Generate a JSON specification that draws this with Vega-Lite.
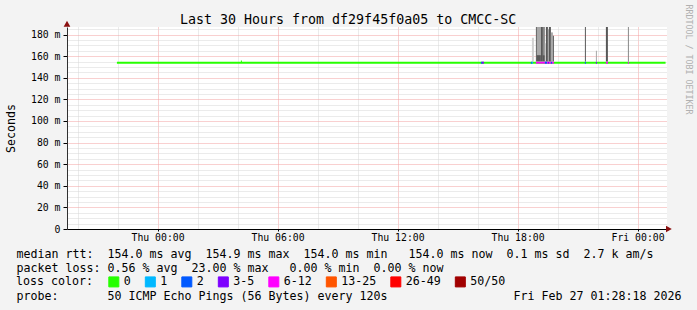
{
  "$schema": "https://vega.github.io/schema/vega-lite/v6.json",
  "width": 600,
  "height": 202,
  "autosize": {"type": "none"},
  "padding": {"left": 67, "top": 27, "right": 30, "bottom": 81},
  "background": "#f3f3f3",
  "config": {"view": {"fill": "#ffffff", "stroke": null}, "font": "DejaVu Sans Mono"},
  "title": {
    "text": "Last 30 Hours from df29f45f0a05 to CMCC-SC",
    "font": "DejaVu Sans Mono", "fontSize": 13.3, "fontWeight": "normal", "color": "#000000",
    "anchor": "start", "frame": "group", "dx": 113, "dy": 36, "offset": 3, "baseline": "alphabetic"
  },
  "datasets": {
    "smoke": [
      {"t0": "2026-02-26T18:43:00Z", "t1": "2026-02-26T18:49:00Z", "lo": 155, "hi": 177, "level": 1},
      {"t0": "2026-02-26T18:55:00Z", "t1": "2026-02-26T18:58:00Z", "lo": 155, "hi": 200, "level": 4},
      {"t0": "2026-02-26T18:58:00Z", "t1": "2026-02-26T19:10:00Z", "lo": 161, "hi": 200, "level": 2},
      {"t0": "2026-02-26T18:58:00Z", "t1": "2026-02-26T19:10:00Z", "lo": 155, "hi": 161, "level": 4},
      {"t0": "2026-02-26T19:10:00Z", "t1": "2026-02-26T19:16:00Z", "lo": 155, "hi": 200, "level": 4},
      {"t0": "2026-02-26T19:16:00Z", "t1": "2026-02-26T19:22:00Z", "lo": 161, "hi": 200, "level": 3},
      {"t0": "2026-02-26T19:16:00Z", "t1": "2026-02-26T19:22:00Z", "lo": 155, "hi": 161, "level": 4},
      {"t0": "2026-02-26T19:22:00Z", "t1": "2026-02-26T19:25:00Z", "lo": 155, "hi": 172, "level": 1},
      {"t0": "2026-02-26T19:25:00Z", "t1": "2026-02-26T19:31:00Z", "lo": 155, "hi": 200, "level": 4},
      {"t0": "2026-02-26T19:31:00Z", "t1": "2026-02-26T19:34:00Z", "lo": 155, "hi": 185, "level": 2},
      {"t0": "2026-02-26T19:34:00Z", "t1": "2026-02-26T19:40:00Z", "lo": 155, "hi": 200, "level": 4},
      {"t0": "2026-02-26T19:40:00Z", "t1": "2026-02-26T19:46:00Z", "lo": 155, "hi": 182, "level": 2},
      {"t0": "2026-02-26T19:46:00Z", "t1": "2026-02-26T19:49:00Z", "lo": 155, "hi": 179, "level": 4},
      {"t0": "2026-02-26T21:22:00Z", "t1": "2026-02-26T21:25:00Z", "lo": 155, "hi": 200, "level": 4},
      {"t0": "2026-02-26T21:55:00Z", "t1": "2026-02-26T21:58:00Z", "lo": 155, "hi": 165, "level": 2},
      {"t0": "2026-02-26T22:25:00Z", "t1": "2026-02-26T22:31:00Z", "lo": 155, "hi": 200, "level": 4},
      {"t0": "2026-02-26T23:31:00Z", "t1": "2026-02-26T23:34:00Z", "lo": 155, "hi": 200, "level": 3}
    ],
    "median": [
      {"t0": "2026-02-25T21:58:00Z", "t1": "2026-02-27T01:24:00Z", "v": 154, "loss": "0"},
      {"t0": "2026-02-26T04:10:00Z", "t1": "2026-02-26T04:13:00Z", "v": 155, "loss": "0"},
      {"t0": "2026-02-26T16:10:00Z", "t1": "2026-02-26T16:13:00Z", "v": 154, "loss": "2"},
      {"t0": "2026-02-26T16:13:00Z", "t1": "2026-02-26T16:19:00Z", "v": 154, "loss": "3-5"},
      {"t0": "2026-02-26T18:40:00Z", "t1": "2026-02-26T18:43:00Z", "v": 154, "loss": "2"},
      {"t0": "2026-02-26T18:43:00Z", "t1": "2026-02-26T18:46:00Z", "v": 154, "loss": "1"},
      {"t0": "2026-02-26T18:55:00Z", "t1": "2026-02-26T19:49:00Z", "v": 154, "loss": "6-12"},
      {"t0": "2026-02-26T19:22:00Z", "t1": "2026-02-26T19:28:00Z", "v": 154, "loss": "2"},
      {"t0": "2026-02-26T19:31:00Z", "t1": "2026-02-26T19:34:00Z", "v": 154, "loss": "3-5"},
      {"t0": "2026-02-26T19:40:00Z", "t1": "2026-02-26T19:43:00Z", "v": 154, "loss": "2"},
      {"t0": "2026-02-26T21:22:00Z", "t1": "2026-02-26T21:25:00Z", "v": 154, "loss": "2"},
      {"t0": "2026-02-26T21:55:00Z", "t1": "2026-02-26T21:58:00Z", "v": 154, "loss": "3-5"},
      {"t0": "2026-02-26T22:25:00Z", "t1": "2026-02-26T22:31:00Z", "v": 154, "loss": "6-12"},
      {"t0": "2026-02-26T23:31:00Z", "t1": "2026-02-26T23:34:00Z", "v": 154, "loss": "6-12"}
    ],
    "yarrow": [{"t": "2026-02-25T19:28:18Z", "v": 190}],
    "xarrow": [{"t": "2026-02-27T01:34:00Z", "v": 0}]
  },
  "layer": [
    {
      "data": {"name": "smoke"},
      "mark": {"type": "rect", "clip": true},
      "encoding": {
        "x": {
          "field": "t0", "type": "temporal",
          "scale": {"type": "utc", "domain": [{"year": 2026, "month": 2, "date": 25, "hours": 19, "minutes": 28, "seconds": 18, "utc": true}, {"year": 2026, "month": 2, "date": 27, "hours": 1, "minutes": 28, "seconds": 18, "utc": true}], "nice": false},
          "axis": {
            "values": [
              {"year": 2026, "month": 2, "date": 25, "hours": 20, "utc": true},
              {"year": 2026, "month": 2, "date": 25, "hours": 21, "utc": true},
              {"year": 2026, "month": 2, "date": 25, "hours": 22, "utc": true},
              {"year": 2026, "month": 2, "date": 25, "hours": 23, "utc": true},
              {"year": 2026, "month": 2, "date": 26, "hours": 0, "utc": true},
              {"year": 2026, "month": 2, "date": 26, "hours": 1, "utc": true},
              {"year": 2026, "month": 2, "date": 26, "hours": 2, "utc": true},
              {"year": 2026, "month": 2, "date": 26, "hours": 3, "utc": true},
              {"year": 2026, "month": 2, "date": 26, "hours": 4, "utc": true},
              {"year": 2026, "month": 2, "date": 26, "hours": 5, "utc": true},
              {"year": 2026, "month": 2, "date": 26, "hours": 6, "utc": true},
              {"year": 2026, "month": 2, "date": 26, "hours": 7, "utc": true},
              {"year": 2026, "month": 2, "date": 26, "hours": 8, "utc": true},
              {"year": 2026, "month": 2, "date": 26, "hours": 9, "utc": true},
              {"year": 2026, "month": 2, "date": 26, "hours": 10, "utc": true},
              {"year": 2026, "month": 2, "date": 26, "hours": 11, "utc": true},
              {"year": 2026, "month": 2, "date": 26, "hours": 12, "utc": true},
              {"year": 2026, "month": 2, "date": 26, "hours": 13, "utc": true},
              {"year": 2026, "month": 2, "date": 26, "hours": 14, "utc": true},
              {"year": 2026, "month": 2, "date": 26, "hours": 15, "utc": true},
              {"year": 2026, "month": 2, "date": 26, "hours": 16, "utc": true},
              {"year": 2026, "month": 2, "date": 26, "hours": 17, "utc": true},
              {"year": 2026, "month": 2, "date": 26, "hours": 18, "utc": true},
              {"year": 2026, "month": 2, "date": 26, "hours": 19, "utc": true},
              {"year": 2026, "month": 2, "date": 26, "hours": 20, "utc": true},
              {"year": 2026, "month": 2, "date": 26, "hours": 21, "utc": true},
              {"year": 2026, "month": 2, "date": 26, "hours": 22, "utc": true},
              {"year": 2026, "month": 2, "date": 26, "hours": 23, "utc": true},
              {"year": 2026, "month": 2, "date": 27, "hours": 0, "utc": true},
              {"year": 2026, "month": 2, "date": 27, "hours": 1, "utc": true}
            ],
            "grid": true,
            "gridColor": {"condition": {"test": "utchours(datum.value) % 3 === 0", "value": "#f2a0a0"}, "value": "#d6d6d6"},
            "gridDash": [1, 1],
            "domain": true, "domainColor": "#000000",
            "ticks": true, "tickSize": 2, "tickColor": "#000000",
            "tickOpacity": {"condition": {"test": "utchours(datum.value) % 3 === 0", "value": 1}, "value": 0},
            "labelExpr": "utchours(datum.value) % 6 === 0 ? utcFormat(datum.value, '%a %H:%M') : ''",
            "labelFont": "DejaVu Sans Mono", "labelFontSize": 9.8, "labelColor": "#000000",
            "labelPadding": 1, "labelOverlap": false,
            "title": [
              "median rtt:\u00a0\u00a0154.0 ms avg\u00a0\u00a0154.9 ms max\u00a0\u00a0154.0 ms min\u00a0\u00a0\u00a0154.0 ms now\u00a0\u00a00.1 ms sd\u00a0\u00a02.7 k am/s",
              "packet loss: 0.56 % avg\u00a0\u00a023.00 % max\u00a0\u00a0\u00a00.00 % min\u00a0\u00a00.00 % now",
              "\u200b",
              "probe:\u00a0\u00a0\u00a0\u00a0\u00a0\u00a0\u00a050 ICMP Echo Pings (56 Bytes) every 120s\u00a0\u00a0\u00a0\u00a0\u00a0\u00a0\u00a0\u00a0\u00a0\u00a0\u00a0\u00a0\u00a0\u00a0\u00a0\u00a0\u00a0\u00a0Fri Feb 27 01:28:18 2026"
            ],
            "titleFont": "DejaVu Sans Mono", "titleFontSize": 11.63, "titleFontWeight": "normal", "titleColor": "#000000",
            "titleAlign": "left", "titleX": -51, "titleY": 28,
            "titleBaseline": "alphabetic", "titleLineHeight": 14
          }
        },
        "x2": {"field": "t1"},
        "y": {
          "field": "lo", "type": "quantitative",
          "scale": {"domain": [0, 187], "nice": false, "zero": false},
          "axis": {
            "values": [0, 5, 10, 15, 20, 25, 30, 35, 40, 45, 50, 55, 60, 65, 70, 75, 80, 85, 90, 95, 100, 105, 110, 115, 120, 125, 130, 135, 140, 145, 150, 155, 160, 165, 170, 175, 180, 185],
            "grid": true,
            "gridColor": {"condition": {"test": "datum.value % 20 === 0", "value": "#f2a0a0"}, "value": "#d6d6d6"},
            "gridDash": [1, 1],
            "domain": true, "domainColor": "#303030", "domainWidth": 1,
            "ticks": true, "tickSize": 4, "tickColor": "#000000",
            "tickOpacity": {"condition": {"test": "datum.value % 20 === 0", "value": 1}, "value": 0},
            "labelExpr": "datum.value % 20 === 0 ? (datum.value === 0 ? '0' : datum.value + ' m') : ''",
            "labelFont": "DejaVu Sans Mono", "labelFontSize": 9.8, "labelColor": "#000000",
            "labelPadding": 3, "labelOverlap": false,
            "title": "Seconds",
            "titleFont": "DejaVu Sans Mono", "titleFontSize": 11.6, "titleFontWeight": "normal", "titleColor": "#000000",
            "titleAngle": 270, "titleX": -56, "titleY": 101, "titleAlign": "center", "titleBaseline": "middle"
          }
        },
        "y2": {"field": "hi"},
        "fill": {
          "field": "level", "type": "ordinal",
          "scale": {"domain": [1, 2, 3, 4], "range": ["#d2d2d2", "#a8a8a8", "#888888", "#585858"]},
          "legend": null
        }
      }
    },
    {
      "data": {"name": "median"},
      "mark": {"type": "rule", "strokeWidth": 2, "clip": true},
      "encoding": {
        "x": {"field": "t0", "type": "temporal",
          "scale": {"type": "utc", "domain": [{"year": 2026, "month": 2, "date": 25, "hours": 19, "minutes": 28, "seconds": 18, "utc": true}, {"year": 2026, "month": 2, "date": 27, "hours": 1, "minutes": 28, "seconds": 18, "utc": true}], "nice": false}},
        "x2": {"field": "t1"},
        "y": {"field": "v", "type": "quantitative", "axis": null, "scale": {"domain": [0, 187], "nice": false, "zero": false}},
        "color": {
          "field": "loss", "type": "nominal",
          "scale": {
            "domain": ["0", "1", "2", "3-5", "6-12", "13-25", "26-49", "50/50"],
            "range": ["#26ff00", "#00b8ff", "#0059ff", "#7e00ff", "#ff00ff", "#ff5500", "#ff0000", "#a10000"]
          },
          "legend": {
            "orient": "none", "legendX": -51, "legendY": 249, "direction": "horizontal",
            "padding": 0,
            "title": "loss color:", "titleOrient": "left",
            "titleFont": "DejaVu Sans Mono", "titleFontSize": 11.63, "titleFontWeight": "normal", "titleColor": "#000000",
            "titlePadding": 15,
            "symbolType": "square", "symbolSize": 100, "symbolStrokeWidth": 1,
            "labelFont": "DejaVu Sans Mono", "labelFontSize": 11.63, "labelColor": "#000000",
            "labelOffset": 4, "columnPadding": 11.5,
            "encode": {
              "symbols": {"update": {"fill": {"scale": "color", "field": "value"}, "stroke": {"value": "#000000"}, "strokeWidth": {"value": 1}, "fillOpacity": {"value": 1}, "opacity": {"value": 1}}}
            }
          }
        }
      }
    },
    {
      "data": {"name": "yarrow"},
      "mark": {"type": "point", "shape": "triangle-up", "filled": true, "color": "#8b1010", "opacity": 1, "size": 45, "clip": false},
      "encoding": {
        "x": {"field": "t", "type": "temporal",
          "scale": {"type": "utc", "domain": [{"year": 2026, "month": 2, "date": 25, "hours": 19, "minutes": 28, "seconds": 18, "utc": true}, {"year": 2026, "month": 2, "date": 27, "hours": 1, "minutes": 28, "seconds": 18, "utc": true}], "nice": false}},
        "y": {"field": "v", "type": "quantitative",
          "scale": {"domain": [0, 187], "nice": false, "zero": false},
          "axis": {
            "orient": "right", "grid": false, "domain": false, "ticks": false, "labels": false,
            "title": "RRDTOOL / TOBI OETIKER",
            "titleFont": "DejaVu Sans Mono", "titleFontSize": 8.3, "titleFontWeight": "normal", "titleColor": "#b0b0b0",
            "titleAngle": 90, "titleX": 20, "titleY": 32, "titleAlign": "center", "titleBaseline": "middle"
          }
        }
      }
    },
    {
      "data": {"name": "xarrow"},
      "mark": {"type": "point", "shape": "triangle-right", "filled": true, "color": "#8b1010", "opacity": 1, "size": 45, "clip": false},
      "encoding": {
        "x": {"field": "t", "type": "temporal",
          "scale": {"type": "utc", "domain": [{"year": 2026, "month": 2, "date": 25, "hours": 19, "minutes": 28, "seconds": 18, "utc": true}, {"year": 2026, "month": 2, "date": 27, "hours": 1, "minutes": 28, "seconds": 18, "utc": true}], "nice": false}},
        "y": {"field": "v", "type": "quantitative", "axis": null, "scale": {"domain": [0, 187], "nice": false, "zero": false}}
      }
    }
  ],
  "resolve": {"axis": {"y": "independent"}}
}
